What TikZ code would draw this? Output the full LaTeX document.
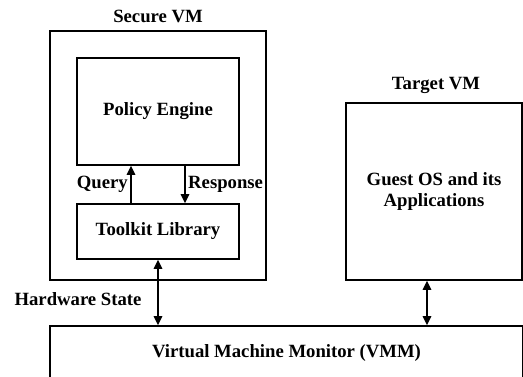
\documentclass[tikz,border=0pt]{standalone}
\usepackage{fontspec}
\setmainfont{Liberation Serif}
\usetikzlibrary{arrows.meta}
\begin{document}
\begin{tikzpicture}[x=1pt,y=1pt,
  box/.style={draw,line width=1.7pt,inner sep=0pt,align=center},
  lbl/.style={inner sep=0pt,align=center},
  arr/.style={line width=1.4pt,-{Triangle[length=9pt,width=8.5pt]}},
  darr/.style={line width=1.4pt,{Triangle[length=9pt,width=8.5pt]}-{Triangle[length=9pt,width=8.5pt]}},
  font=\fontsize{18.7}{21}\selectfont\bfseries]
\useasboundingbox (0,0) rectangle (523,377);
\clip (0,0) rectangle (523,377);
\node[box,minimum width=216pt,minimum height=249pt] (secure) at (158,221.5) {};
\node[box,minimum width=162pt,minimum height=107pt] (policy) at (158,265.5) {Policy Engine};
\node[box,minimum width=162pt,minimum height=55pt] (toolkit) at (158,145.5) {Toolkit Library};
\node[box,minimum width=176pt,minimum height=177pt] (target) at (434,185.5) {Guest OS and its\\Applications};
\node[box,minimum width=473pt,minimum height=54pt] (vmm) at (286.5,24) {Virtual Machine Monitor (VMM)};
\node[lbl] (securelbl) at (158,361) {Secure VM};
\node[lbl] (targetlbl) at (436,292) {Target VM};
\node[lbl,anchor=east] (query) at (128,193) {Query};
\node[lbl,anchor=west] (response) at (188,193) {Response};
\node[lbl] (hw) at (78,78) {Hardware State};
\coordinate (qx) at (131,0);
\coordinate (rx) at (185,0);
\coordinate (tx) at (427,0);
\draw[arr] (toolkit.north -| qx) -- (policy.south -| qx);
\draw[arr] (policy.south -| rx) -- (toolkit.north -| rx);
\draw[darr] (toolkit.south) -- (toolkit.south |- vmm.north);
\draw[darr] (target.south -| tx) -- (vmm.north -| tx);
\end{tikzpicture}
\end{document}
